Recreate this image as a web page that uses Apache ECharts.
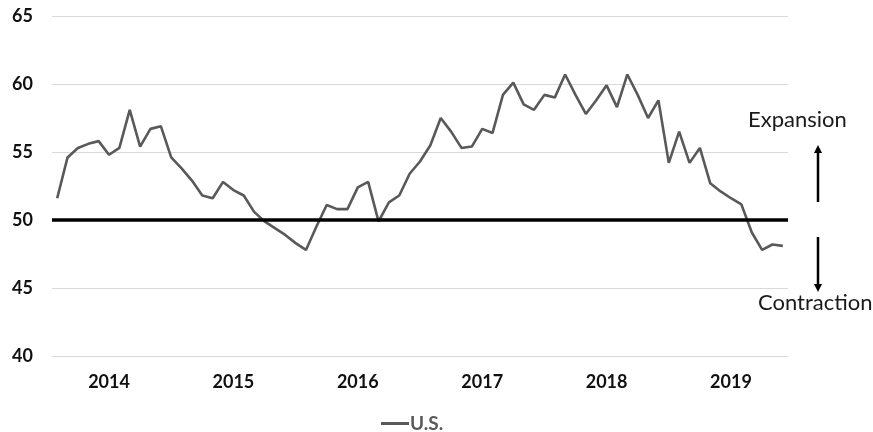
<!DOCTYPE html>
<html lang="en">
<head>
  <meta charset="UTF-8" />
  <title>U.S. PMI</title>
  <script src="https://cdn.jsdelivr.net/npm/echarts@6/dist/echarts.min.js"></script>
  <style>
    body { margin: 0; background: #fff; }
    #chart { width: 873px; height: 432px; }
  </style>
</head>
<body>
  <div id="chart"></div>
  <script>
    // monthly readings, Jan 2014 - Nov 2019
    const years = ["2014", "2015", "2016", "2017", "2018", "2019"];
    const monthNames = ["01", "02", "03", "04", "05", "06", "07", "08", "09", "10", "11", "12"];
    const usValues = [
      51.6, 54.6, 55.3, 55.6, 55.8, 54.8, 55.3, 58.1, 55.4, 56.7, 56.9, 54.6,
      53.8, 52.9, 51.8, 51.6, 52.8, 52.2, 51.8, 50.6, 49.9, 49.4, 48.9, 48.3,
      47.8, 49.5, 51.1, 50.8, 50.8, 52.4, 52.8, 49.9, 51.3, 51.8, 53.4, 54.3,
      55.5, 57.5, 56.5, 55.3, 55.4, 56.7, 56.4, 59.2, 60.1, 58.5, 58.1, 59.2,
      59.0, 60.7, 59.2, 57.8, 58.8, 59.9, 58.3, 60.7, 59.2, 57.5, 58.8, 54.2,
      56.5, 54.2, 55.3, 52.7, 52.1, 51.6, 51.15, 49.1, 47.8, 48.2, 48.1
    ];
    const threshold = 50;

    const months = [];
    years.forEach(y => monthNames.forEach(m => months.push(y + "-" + m)));
    months.length = usValues.length;

    const chart = echarts.init(document.getElementById("chart"));
    const font = "Lato, 'Liberation Sans', sans-serif";

    chart.setOption({
      animation: false,
      grid: { left: 52, right: 85, top: 16, bottom: 76, containLabel: false },
      xAxis: {
        type: "category",
        data: months,
        boundaryGap: true,
        axisLine: { show: false },
        axisTick: { show: false },
        axisLabel: {
          interval: (idx) => idx % 12 === 5,
          formatter: (val) => val.slice(0, 4),
          color: "#111",
          fontWeight: "bold",
          fontSize: 18,
          fontFamily: font,
          margin: 17
        }
      },
      yAxis: {
        type: "value",
        min: 40,
        max: 65,
        interval: 5,
        axisLine: { show: false },
        axisTick: { show: false },
        splitLine: { lineStyle: { color: "#d9d9d9", width: 1 } },
        axisLabel: {
          color: "#111",
          fontWeight: "bold",
          fontSize: 18,
          fontFamily: font,
          margin: 19
        }
      },
      legend: {
        top: 409,
        left: 376,
        icon: "rect",
        itemWidth: 28,
        itemHeight: 3,
        itemGap: 0,
        textStyle: { color: "#595959", fontWeight: "bold", fontSize: 19, fontFamily: font, padding: [0, 0, 0, -4] },
        data: ["U.S."]
      },
      series: [
        {
          name: "U.S.",
          type: "line",
          data: usValues,
          symbol: "none",
          lineStyle: { color: "#595959", width: 2.6 },
          itemStyle: { color: "#595959" },
          markLine: {
            silent: true,
            symbol: "none",
            label: { show: false },
            lineStyle: { color: "#000", width: 3.5, type: "solid" },
            data: [{ yAxis: threshold }]
          },
          z: 3
        }
      ],
      graphic: [
        { type: "text", left: 748, top: 109, style: { text: "Expansion", font: "22px " + font, fill: "#1a1a1a" } },
        { type: "line", shape: { x1: 818, y1: 202, x2: 818, y2: 152 }, style: { stroke: "#000", lineWidth: 2.5 } },
        { type: "polygon", shape: { points: [[818, 145], [814, 153], [822, 153]] }, style: { fill: "#000" } },
        { type: "line", shape: { x1: 818, y1: 237, x2: 818, y2: 285 }, style: { stroke: "#000", lineWidth: 2.5 } },
        { type: "polygon", shape: { points: [[818, 292], [814, 284], [822, 284]] }, style: { fill: "#000" } },
        { type: "text", left: 758, top: 292, style: { text: "Contraction", font: "22px " + font, fill: "#1a1a1a" } }
      ]
    });
  </script>
</body>
</html>
